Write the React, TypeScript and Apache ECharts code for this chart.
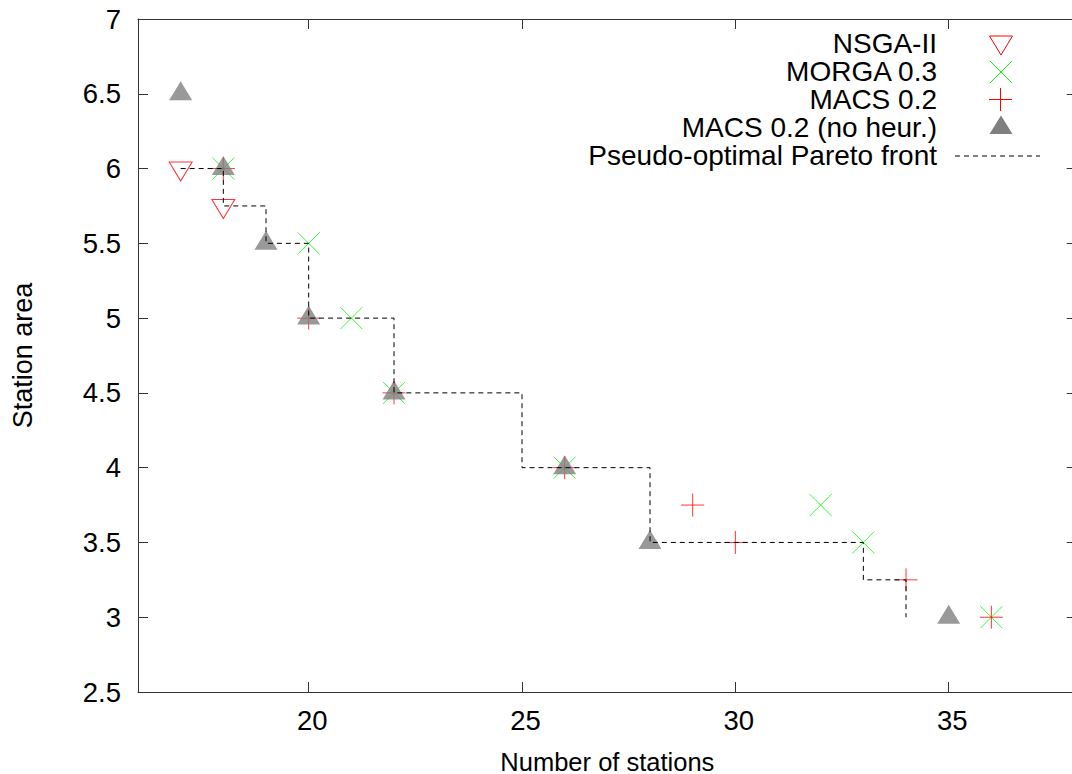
import React, { useEffect, useRef } from 'react';
import * as echarts from 'echarts';

// ---- Data ----
const nsgaX = [17, 18];
const nsgaY = [6, 5.75];

const morgaX = [18, 20, 21, 22, 26, 32, 33, 36];
const morgaY = [6, 5.5, 5, 4.5, 4, 3.75, 3.5, 3];

const macsX = [18, 20, 22, 26, 29, 30, 34, 36];
const macsY = [6, 5, 4.5, 4, 3.75, 3.5, 3.25, 3];

const noHeurX = [17, 18, 19, 20, 22, 26, 28, 35];
const noHeurY = [6.5, 6, 5.5, 5, 4.5, 4, 3.5, 3];

const paretoX = [17, 18, 19, 20, 22, 25, 28, 33, 34];
const paretoY = [6, 5.75, 5.5, 5, 4.5, 4, 3.5, 3.25, 3];

const seriesNames = [
  'NSGA-II',
  'MORGA 0.3',
  'MACS 0.2',
  'MACS 0.2 (no heur.)',
  'Pseudo-optimal Pareto front',
];

const xMin = 16;
const xMax = 38;
const yMin = 2.5;
const yMax = 7;
const yStep = 0.5;

const xTitle = 'Number of stations';
const yTitle = 'Station area';

const FONT = "'Liberation Sans', Arial, Helvetica, sans-serif";
const AXIS = '#333333';
const RED = '#ff0000';
const GREEN = '#00ff00';
const GREY = '#808080';

const pairs = (xs: number[], ys: number[]) => xs.map((x, i) => [x, ys[i]]);

const X_PATH = 'path://M0,0L10,10M10,0L0,10';
const PLUS_PATH = 'path://M5,0L5,10M0,5L10,5';

export default function App() {
  const ref = useRef<HTMLDivElement>(null);

  useEffect(() => {
    if (!ref.current) return;
    const chart = echarts.init(ref.current, null, { renderer: 'svg' });

    const axisLine = { show: true, onZero: false, lineStyle: { color: AXIS, width: 1 } };
    const axisTick = { show: true, inside: true, length: 10, lineStyle: { color: AXIS, width: 1 } };

    const xBase = {
      type: 'value',
      min: xMin,
      max: xMax,
      splitNumber: 5,
      splitLine: { show: false },
      axisLine,
      axisTick,
    };
    const yBase = {
      type: 'value',
      min: yMin,
      max: yMax,
      interval: yStep,
      splitLine: { show: false },
      axisLine,
      axisTick,
    };

    const legendText = (text: string, y: number) => ({
      type: 'text',
      x: 937,
      y,
      style: {
        text,
        fill: '#000',
        fontSize: 28,
        fontFamily: FONT,
        align: 'right',
        verticalAlign: 'middle',
        textAlign: 'right',
        textVerticalAlign: 'middle',
      },
      silent: true,
    });
    const seg = (x1: number, y1: number, x2: number, y2: number, stroke: string, lineDash?: number[]) => ({
      type: 'line',
      shape: { x1, y1, x2, y2 },
      style: { stroke, lineWidth: 1, lineDash },
      silent: true,
    });

    chart.setOption({
      animation: false,
      backgroundColor: '#ffffff',
      grid: {
        left: 138,
        top: 19,
        right: 23.3,
        bottom: 82,
        containLabel: false,
        outerBoundsMode: 'none',
      },
      xAxis: [
        {
          ...xBase,
          position: 'bottom',
          name: xTitle,
          nameLocation: 'middle',
          nameGap: 56.5,
          nameTextStyle: { color: '#000', fontSize: 25.5, fontFamily: FONT },
          axisLabel: {
            show: true,
            color: '#000',
            fontSize: 27.5,
            fontFamily: FONT,
            margin: 14,
            padding: [0, 0, 0, 7],
            showMinLabel: false,
            showMaxLabel: false,
            formatter: (v: number) => (v % 5 === 0 ? String(v) : ''),
          },
        },
        {
          ...xBase,
          position: 'top',
          axisLabel: { show: false },
        },
      ],
      yAxis: [
        {
          ...yBase,
          position: 'left',
          name: yTitle,
          nameLocation: 'middle',
          nameGap: 101.5,
          nameTextStyle: { color: '#000', fontSize: 27, fontFamily: FONT },
          axisLabel: {
            show: true,
            color: '#000',
            fontSize: 27.5,
            fontFamily: FONT,
            margin: 17,
          },
        },
        {
          ...yBase,
          position: 'right',
          axisLabel: { show: false },
        },
      ],
      series: [
        {
          name: seriesNames[0],
          type: 'scatter',
          data: pairs(nsgaX, nsgaY),
          symbol: 'triangle',
          symbolRotate: 180,
          symbolSize: [23, 19],
          symbolOffset: [0, 3],
          itemStyle: { color: 'rgba(255,255,255,0)', borderColor: RED, borderWidth: 1 },
          silent: true,
        },
        {
          name: seriesNames[1],
          type: 'scatter',
          data: pairs(morgaX, morgaY),
          symbol: X_PATH,
          symbolSize: 22,
          itemStyle: { color: 'rgba(0,0,0,0)', borderColor: GREEN, borderWidth: 1 },
          silent: true,
        },
        {
          name: seriesNames[2],
          type: 'scatter',
          data: pairs(macsX, macsY),
          symbol: PLUS_PATH,
          symbolSize: 23,
          itemStyle: { color: 'rgba(0,0,0,0)', borderColor: RED, borderWidth: 1 },
          silent: true,
        },
        {
          name: seriesNames[3],
          type: 'scatter',
          data: pairs(noHeurX, noHeurY),
          symbol: 'triangle',
          symbolSize: [23, 19],
          symbolOffset: [0, -3],
          itemStyle: { color: GREY, borderWidth: 0 },
          silent: true,
        },
        {
          name: seriesNames[4],
          type: 'line',
          z: 5,
          data: pairs(paretoX, paretoY),
          step: 'end',
          symbol: 'none',
          showSymbol: false,
          lineStyle: { color: '#000', width: 1, type: [5, 4] },
          silent: true,
        },
      ],
      graphic: {
        elements: [
          legendText(seriesNames[0], 43),
          legendText(seriesNames[1], 71),
          legendText(seriesNames[2], 99),
          legendText(seriesNames[3], 127),
          legendText(seriesNames[4], 155),
          {
            type: 'polygon',
            shape: { points: [[989.5, 36], [1012.5, 36], [1001, 55]] },
            style: { fill: 'none', stroke: RED, lineWidth: 1 },
            silent: true,
          },
          seg(990, 61, 1012, 83, GREEN),
          seg(1012, 61, 990, 83, GREEN),
          seg(1000.5, 88, 1000.5, 111, RED),
          seg(989, 99.5, 1012, 99.5, RED),
          {
            type: 'polygon',
            shape: { points: [[1001, 115.5], [1012.5, 134], [989.5, 134]] },
            style: { fill: GREY, stroke: 'none' },
            silent: true,
          },
          seg(955, 156, 1040, 156, '#000', [5, 4]),
        ],
      },
    });

    return () => {
      chart.dispose();
    };
  }, []);

  return (
    <div
      style={{
        position: 'fixed',
        left: 0,
        top: 0,
        width: 1072,
        height: 774,
        overflow: 'hidden',
        background: '#ffffff',
      }}
    >
      <div ref={ref} style={{ width: 1100, height: 774 }} />
    </div>
  );
}
